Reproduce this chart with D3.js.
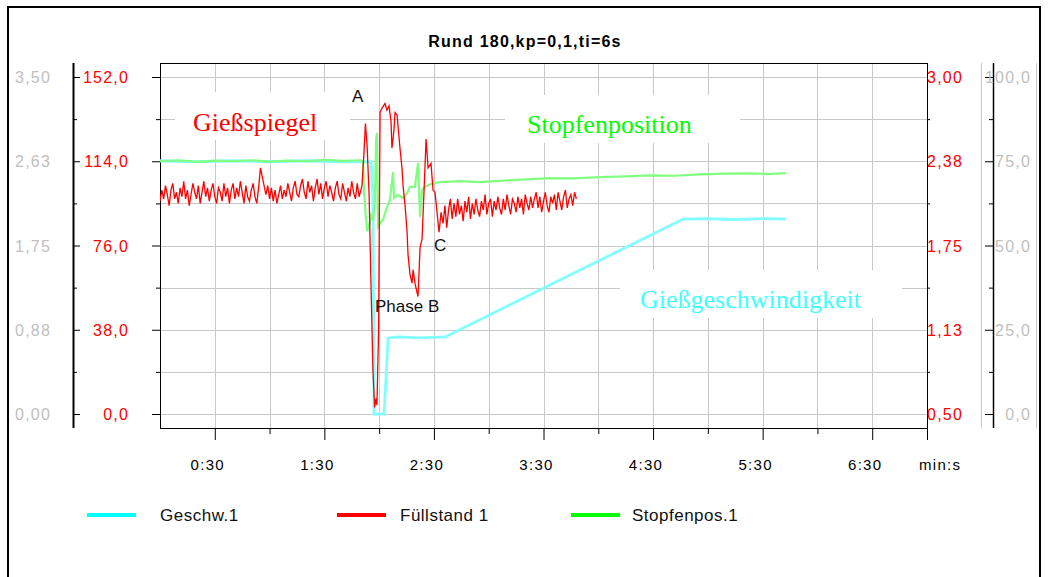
<!DOCTYPE html>
<html>
<head>
<meta charset="utf-8">
<script src="https://cdn.jsdelivr.net/npm/d3@7"></script>
<style>
  body { margin: 0; background: #fff; }
  svg { display: block; font-family: "Liberation Sans", Arial, sans-serif; }
</style>
</head>
<body>
<svg id="chart" width="1048" height="577"></svg>
<script>
// x axis: seconds since start, labelled mm:ss
const timeTicks = [30, 90, 150, 210, 270, 330, 390];
const timeLabels = ["0:30", "1:30", "2:30", "3:30", "4:30", "5:30", "6:30"];
const timeMinor = [60, 120, 180, 240, 300, 360];

// y axes (all share the same pixel grid)
const fuellTicks = [152, 114, 76, 38, 0];
const fuellLabels = ["152,0", "114,0", "76,0", "38,0", "0,0"];
const geschwTicks = [3.5, 2.625, 1.75, 0.875, 0];
const geschwLabels = ["3,50", "2,63", "1,75", "0,88", "0,00"];
const rightTicks = [3.0, 2.375, 1.75, 1.125, 0.5];
const rightLabels = ["3,00", "2,38", "1,75", "1,13", "0,50"];
const stopfenTicks = [100, 75, 50, 25, 0];
const stopfenLabels = ["100,0", "75,0", "50,0", "25,0", "0,0"];

// Füllstand 1 (red), sampled once a second before and after the disturbance
const fuellPreStart = 0;
const fuellPre = [
  96, 101, 97, 103, 99, 94, 101, 104, 97, 100,
  95, 102, 98, 105, 97, 101, 94, 99, 104, 100,
  97, 103, 95, 100, 105, 98, 102, 96, 101, 104,
  98, 95, 102, 100, 96, 104, 98, 102, 95, 101,
  104, 97, 102, 98, 105, 100, 95, 103, 98, 96,
  101, 104, 98, 95, 102, 111, 107, 103, 99, 103,
  97, 102, 96, 101, 95, 99, 103, 97, 101, 98,
  104, 100, 96, 102, 105, 99, 98, 103, 106, 100,
  97, 105, 100, 103, 96, 102, 106, 99, 104, 97,
  102, 105, 98, 103, 100, 96, 102, 105, 99, 97,
  104, 100, 96, 102, 98, 105, 100, 97, 104, 98, 101
];
// [seconds, value] through the disturbance
const fuellEvent = [
  [110.6, 103], [111.7, 118], [112.5, 131], [113.4, 121], [114.5, 99],
  [115.6, 56], [116.6, 20], [117.5, 3], [118.3, 7], [118.8, 4],
  [119.7, 38], [120.5, 136], [121.6, 138], [123.2, 140], [124.3, 137],
  [125.4, 139], [126.5, 132], [127.0, 120], [127.6, 124], [128.2, 129],
  [128.7, 136], [129.8, 135], [131.4, 120], [132.5, 111], [133.1, 103],
  [134.2, 94], [135.3, 82], [135.8, 72], [136.9, 63], [138.0, 59],
  [138.6, 65], [139.6, 59], [140.7, 55], [141.3, 53], [142.4, 75],
  [143.5, 79], [144.6, 101], [145.7, 124], [146.8, 111], [148.4, 113],
  [149.5, 101], [150.6, 100], [151.7, 91], [152.8, 82], [153.9, 91]
];
const fuellPostStart = 155;
const fuellPost = [
  86, 94, 84, 92, 97, 88, 95, 89, 97, 90,
  94, 87, 96, 91, 98, 88, 95, 90, 97, 92,
  89, 96, 92, 99, 90, 95, 97, 89, 96, 92,
  98, 93, 90, 97, 92, 99, 94, 90, 97, 95,
  91, 98, 93, 97, 90, 99, 95, 92, 98, 93,
  97, 100, 93, 98, 91, 96, 100, 94, 91, 98,
  95, 99, 92, 100, 96, 92, 98, 101, 93, 97,
  99, 94, 100, 97
];

// Geschw.1 (cyan), [seconds, m/min]
const geschw = [
  [0, 2.63], [20, 2.62], [40, 2.63], [60, 2.62], [80, 2.63], [100, 2.62],
  [115.5, 2.62], [116.1, 2.48], [116.6, 2.22], [117.2, 0], [122.7, 0],
  [124.9, 0.79], [131, 0.80], [142, 0.79], [156.1, 0.80],
  [286.4, 2.025], [300, 2.03], [315, 2.02], [330, 2.03], [342.8, 2.025]
];

// Stopfenpos.1 (green), [seconds, %]
const stopfen = [
  [0, 75.0], [10, 75.3], [20, 74.8], [30, 75.2], [40, 75.0], [50, 75.3],
  [60, 74.9], [70, 75.2], [80, 75.0], [90, 75.4], [100, 75.1], [110, 75.3],
  [111.2, 74.8], [111.7, 66.5], [112.5, 59.9], [113.4, 54.3], [114.5, 55.8],
  [115.6, 59.0], [116.6, 57.6], [117.7, 63.5], [118.3, 81.3], [118.8, 83.4],
  [119.4, 55.5], [121.0, 57.0], [122.1, 57.6], [124.3, 61.4], [125.9, 63.5],
  [127.6, 71.8], [128.2, 64.1], [130.3, 65.0], [133.1, 64.1], [135.3, 65.6],
  [136.9, 67.4], [139.6, 67.4], [141.3, 74.5], [142.4, 58.5], [143.5, 66.5],
  [145.1, 67.4], [146.8, 67.9], [149.5, 68.5], [153.3, 68.8], [164.3, 69.1],
  [175, 68.8], [186.2, 69.2], [200, 69.6], [213.6, 70.0], [227, 69.9],
  [241, 70.3], [255, 70.5], [268.3, 70.8], [282, 70.7], [295.7, 71.1],
  [310, 71.3], [323.1, 71.4], [333, 71.2], [342.8, 71.5]
];

const legendItems = ["Geschw.1", "Füllstand 1", "Stopfenpos.1"];
const legendColors = ["#00ffff", "#ff0000", "#00ff00"];

// ---------------------------------------------------------------

const svg = d3.select("#chart");
const plot = { left: 160, right: 927, top: 63, bottom: 428 };
const yTop = 77, yBottom = 414;

const x = d3.scaleLinear().domain([0, 420]).range([plot.left, plot.right]);
const yFuell = d3.scaleLinear().domain([0, 152]).range([yBottom, yTop]);
const yGeschw = d3.scaleLinear().domain([0, 3.5]).range([yBottom, yTop]);
const yRight = d3.scaleLinear().domain([0.5, 3.0]).range([yBottom, yTop]);
const yStopfen = d3.scaleLinear().domain([0, 100]).range([yBottom, yTop]);

const fuellMinor = fuellTicks.slice(0, -1).map(v => v - 19);
const gridValues = fuellTicks.concat(fuellMinor);

// outer frame
svg.append("rect")
  .attr("x", 8).attr("y", 7).attr("width", 1032).attr("height", 620)
  .attr("fill", "none").attr("stroke", "#000").attr("stroke-width", 2);

// title
svg.append("text")
  .attr("x", 525).attr("y", 47)
  .attr("text-anchor", "middle")
  .attr("font-size", 16).attr("font-weight", "bold")
  .attr("letter-spacing", 1.2)
  .text("Rund 180,kp=0,1,ti=6s");

// grid
const grid = svg.append("g").attr("stroke", "#c8c8c8").attr("stroke-width", 1);
grid.selectAll("line.h").data(gridValues).enter().append("line")
  .attr("x1", plot.left).attr("x2", plot.right)
  .attr("y1", d => Math.round(yFuell(d)) + 0.5).attr("y2", d => Math.round(yFuell(d)) + 0.5);
grid.selectAll("line.v").data(d3.range(30, 420, 30)).enter().append("line")
  .attr("x1", d => Math.round(x(d)) + 0.5).attr("x2", d => Math.round(x(d)) + 0.5)
  .attr("y1", plot.top).attr("y2", plot.bottom);

// white boxes behind the inline captions
const boxes = [[175, 92, 175, 48], [505, 95, 235, 48], [620, 270, 282, 48]];
svg.selectAll("rect.box").data(boxes).enter().append("rect")
  .attr("x", d => d[0]).attr("y", d => d[1]).attr("width", d => d[2]).attr("height", d => d[3])
  .attr("fill", "#fff");

// plot border
svg.append("rect")
  .attr("x", plot.left + 0.5).attr("y", plot.top + 0.5)
  .attr("width", plot.right - plot.left).attr("height", plot.bottom - plot.top)
  .attr("fill", "none").attr("stroke", "#000");

function cleanAxis(g) {
  g.select(".domain").remove();
  g.selectAll("text").remove();
  g.selectAll("line").attr("stroke", "#000");
}

// ticks on the plot frame
svg.append("g").attr("transform", `translate(${plot.left},0)`)
  .call(d3.axisLeft(yFuell).tickValues(fuellTicks).tickSize(8)).call(cleanAxis);
svg.append("g").attr("transform", `translate(${plot.left},0)`)
  .call(d3.axisLeft(yFuell).tickValues(fuellMinor).tickSize(4)).call(cleanAxis);
svg.append("g").attr("transform", `translate(${plot.right},0)`)
  .call(d3.axisRight(yFuell).tickValues(fuellMinor).tickSize(3)).call(cleanAxis);

// left red axis line
svg.append("line").attr("x1", 73.5).attr("x2", 73.5).attr("y1", plot.top).attr("y2", plot.bottom)
  .attr("stroke", "#000").attr("stroke-width", 2);
svg.append("g").attr("transform", "translate(73,0)")
  .call(d3.axisRight(yFuell).tickValues(fuellTicks).tickSize(7)).call(cleanAxis);
svg.append("g").attr("transform", "translate(73,0)")
  .call(d3.axisRight(yFuell).tickValues(fuellMinor).tickSize(4)).call(cleanAxis);

// right black axis with gray guide lines
svg.selectAll("line.guide").data([981.5, 1036.5]).enter().append("line")
  .attr("x1", d => d).attr("x2", d => d).attr("y1", plot.top).attr("y2", plot.bottom)
  .attr("stroke", "#c8c8c8");
svg.append("line").attr("x1", 993.5).attr("x2", 993.5).attr("y1", plot.top).attr("y2", plot.bottom)
  .attr("stroke", "#000").attr("stroke-width", 1.5);
svg.append("g").attr("transform", "translate(993,0)")
  .call(d3.axisLeft(yStopfen).tickValues(stopfenTicks).tickSize(8)).call(cleanAxis);
svg.append("g").attr("transform", "translate(993,0)")
  .call(d3.axisLeft(yStopfen).tickValues([87.5, 62.5, 37.5, 12.5]).tickSize(4)).call(cleanAxis);

// y labels
const labelStyle = sel => sel.attr("font-size", 16).attr("letter-spacing", 1.2);
svg.append("g").selectAll("text").data(geschwTicks).enter().append("text")
  .attr("x", 51).attr("y", d => yGeschw(d) + 6).attr("text-anchor", "end")
  .attr("fill", "#c0c0c0").text((d, i) => geschwLabels[i]).call(labelStyle);
svg.append("g").selectAll("text").data(fuellTicks).enter().append("text")
  .attr("x", 129).attr("y", d => yFuell(d) + 6).attr("text-anchor", "end")
  .attr("fill", "#ff0000").text((d, i) => fuellLabels[i]).call(labelStyle);
svg.append("g").selectAll("text").data(rightTicks).enter().append("text")
  .attr("x", 963).attr("y", d => yRight(d) + 6).attr("text-anchor", "end")
  .attr("fill", "#ff0000").text((d, i) => rightLabels[i]).call(labelStyle);
svg.append("g").selectAll("text").data(stopfenTicks).enter().append("text")
  .attr("x", 1031).attr("y", d => yStopfen(d) + 6).attr("text-anchor", "end")
  .attr("fill", "#c0c0c0").text((d, i) => stopfenLabels[i]).call(labelStyle);

// x axis
svg.append("g").attr("transform", `translate(0,${plot.bottom})`)
  .call(d3.axisBottom(x).tickValues(timeTicks.concat([420])).tickSize(12)).call(cleanAxis);
svg.append("g").attr("transform", `translate(0,${plot.bottom})`)
  .call(d3.axisBottom(x).tickValues(timeMinor).tickSize(6)).call(cleanAxis);
svg.append("g").selectAll("text").data(timeTicks).enter().append("text")
  .attr("x", d => x(d) - 7).attr("y", 470).attr("text-anchor", "middle")
  .attr("font-size", 15).attr("letter-spacing", 1.3)
  .text((d, i) => timeLabels[i]);
svg.append("text").attr("x", 919).attr("y", 470)
  .attr("font-size", 15).attr("letter-spacing", 1.3).text("min:s");

// series
svg.append("clipPath").attr("id", "clip").append("rect")
  .attr("x", plot.left).attr("y", plot.top)
  .attr("width", plot.right - plot.left).attr("height", plot.bottom - plot.top);

const fuell = fuellPre.map((v, i) => [fuellPreStart + i, v])
  .concat(fuellEvent)
  .concat(fuellPost.map((v, i) => [fuellPostStart + i, v]));

const lines = svg.append("g").attr("clip-path", "url(#clip)").attr("fill", "none");
lines.append("path").datum(geschw)
  .attr("d", d3.line().x(d => x(d[0])).y(d => yGeschw(d[1])))
  .attr("stroke", "#80ffff").attr("stroke-width", 2.8);
lines.append("path").datum(stopfen)
  .attr("d", d3.line().x(d => x(d[0])).y(d => yStopfen(d[1])))
  .attr("stroke", "#80ff80").attr("stroke-width", 2.2);
lines.append("path").datum(fuell)
  .attr("d", d3.line().x(d => x(d[0])).y(d => yFuell(d[1])))
  .attr("stroke", "#ff0000").attr("stroke-width", 1.3);

// inline captions
const captions = [
  { text: "Gießspiegel", x: 193, y: 131, color: "#ff0000" },
  { text: "Stopfenposition", x: 527, y: 133, color: "#00ff00" },
  { text: "Gießgeschwindigkeit", x: 640, y: 308, color: "#40ffff" }
];
svg.append("g").selectAll("text").data(captions).enter().append("text")
  .attr("x", d => d.x).attr("y", d => d.y).attr("fill", d => d.color)
  .attr("font-family", "'Liberation Serif', 'Times New Roman', serif")
  .attr("font-size", 26).text(d => d.text);

const notes = [
  { text: "A", x: 352, y: 102 },
  { text: "C", x: 434, y: 251 },
  { text: "Phase B", x: 375, y: 312 }
];
svg.append("g").selectAll("text").data(notes).enter().append("text")
  .attr("x", d => d.x).attr("y", d => d.y).attr("font-size", 17).attr("fill", "#111")
  .text(d => d.text);

// legend
const legendX = [87, 337, 571];
const legendTextX = [160, 400, 632];
const legend = svg.append("g");
legend.selectAll("line").data(legendItems).enter().append("line")
  .attr("x1", (d, i) => legendX[i]).attr("x2", (d, i) => legendX[i] + 49)
  .attr("y1", 515).attr("y2", 515)
  .attr("stroke", (d, i) => legendColors[i]).attr("stroke-width", 4);
legend.selectAll("text").data(legendItems).enter().append("text")
  .attr("x", (d, i) => legendTextX[i]).attr("y", 521)
  .attr("font-size", 17).attr("letter-spacing", 0.5).attr("fill", "#111")
  .text(d => d);
</script>
</body>
</html>
